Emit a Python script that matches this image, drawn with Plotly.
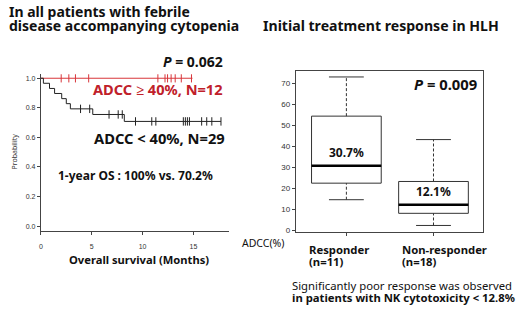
import plotly.graph_objects as go

# ---------------- Kaplan-Meier data ----------------
low_times = [0, 0.25, 0.85, 1.35, 2.05, 2.5, 2.9, 5.1, 8.2, 17.7]
low_surv = [1.0, 0.966, 0.931, 0.897, 0.862, 0.828, 0.793, 0.755, 0.708, 0.708]
low_censor = [3.9, 4.8, 6.7, 7.6, 8.0, 9.3, 10.9, 11.3, 14.0, 14.2, 14.4, 14.6,
              15.8, 16.3, 16.8, 17.7]
high_times = [0, 14.9]
high_surv = [1.0, 1.0]
high_censor = [2.0, 2.75, 3.4, 4.7, 11.5, 12.2, 12.45, 12.8, 13.2, 13.8, 14.8]
km_xticks = [0, 5, 10, 15]
km_yticks = [0.0, 0.2, 0.4, 0.6, 0.8, 1.0]

# ---------------- Box plot data ----------------
groups = ["Responder", "Non-responder"]
group_n = [11, 18]
whisk_lo = [14.5, 2.2]
q1 = [22.4, 8.0]
median = [30.7, 12.1]
q3 = [54.4, 23.2]
whisk_hi = [73.1, 43.2]
box_yticks = [0, 10, 20, 30, 40, 50, 60, 70]

W, H = 520, 312
FONT = "Noto Sans"
RED_LINE = "#D8353A"
RED_TXT = "#C0202A"


def surv_at(t, times, surv):
    s = surv[0]
    for tt, ss in zip(times, surv):
        if tt <= t:
            s = ss
    return s


fig = go.Figure()

# KM curves
fig.add_trace(go.Scatter(x=high_times, y=high_surv, mode="lines", line_shape="hv",
                         line=dict(color=RED_LINE, width=1), xaxis="x", yaxis="y",
                         hoverinfo="skip"))
fig.add_trace(go.Scatter(x=high_censor, y=[surv_at(t, high_times, high_surv) for t in high_censor],
                         mode="markers", marker=dict(symbol="line-ns", size=6,
                                                     line=dict(color=RED_LINE, width=1)),
                         xaxis="x", yaxis="y", hoverinfo="skip"))
fig.add_trace(go.Scatter(x=low_times, y=low_surv, mode="lines", line_shape="hv",
                         line=dict(color="#222", width=1), xaxis="x", yaxis="y",
                         hoverinfo="skip"))
fig.add_trace(go.Scatter(x=low_censor, y=[surv_at(t, low_times, low_surv) for t in low_censor],
                         mode="markers", marker=dict(symbol="line-ns", size=6,
                                                     line=dict(color="#222", width=1)),
                         xaxis="x", yaxis="y", hoverinfo="skip"))

# Box plot drawn from the summary statistics
half_box = 0.4
half_cap = 0.2
for i, g in enumerate(groups):
    p = i + 1
    # whiskers (dashed)
    fig.add_trace(go.Scatter(x=[p, p], y=[q3[i], whisk_hi[i]], mode="lines",
                             line=dict(color="#333", width=1, dash="3px,2px"),
                             xaxis="x2", yaxis="y2", hoverinfo="skip"))
    fig.add_trace(go.Scatter(x=[p, p], y=[whisk_lo[i], q1[i]], mode="lines",
                             line=dict(color="#333", width=1, dash="3px,2px"),
                             xaxis="x2", yaxis="y2", hoverinfo="skip"))
    # caps
    for v in (whisk_lo[i], whisk_hi[i]):
        fig.add_trace(go.Scatter(x=[p - half_cap, p + half_cap], y=[v, v], mode="lines",
                                 line=dict(color="#333", width=1),
                                 xaxis="x2", yaxis="y2", hoverinfo="skip"))
    # box
    fig.add_trace(go.Scatter(x=[p - half_box, p + half_box, p + half_box, p - half_box, p - half_box],
                             y=[q1[i], q1[i], q3[i], q3[i], q1[i]], mode="lines",
                             line=dict(color="#333", width=1),
                             xaxis="x2", yaxis="y2", hoverinfo="skip"))
    # median
    fig.add_trace(go.Scatter(x=[p - half_box, p + half_box], y=[median[i], median[i]], mode="lines",
                             line=dict(color="#000", width=2.6),
                             xaxis="x2", yaxis="y2", hoverinfo="skip"))


def px(x, y):
    return x / W, 1 - y / H


def dom_x(a, b):
    return [a / W, b / W]


def dom_y(top, bottom):
    return [1 - bottom / H, 1 - top / H]


ann = []


def text(x, y, s, size, color="#111", xanchor="left", angle=0):
    X, Y = px(x, y)
    ann.append(dict(x=X, y=Y, xref="paper", yref="paper", text=s, showarrow=False,
                    xanchor=xanchor, yanchor="middle", textangle=angle, borderpad=0,
                    font=dict(family=FONT, size=size, color=color)))


# Left panel texts
text(6, 12, "<b>In all patients with febrile</b>", 14)
text(6, 25.5, "<b>disease accompanying cytopenia</b>", 14)
text(223, 62, "<b><i>P</i> = 0.062</b>", 14, xanchor="right")
text(223, 90, "<b>ADCC ≥ 40%, N=12</b>", 14.6, color=RED_TXT, xanchor="right")
text(225, 139, "<b>ADCC &lt; 40%, N=29</b>", 14.7, xanchor="right")
text(134, 177, "<b>1-year OS : 100% vs. 70.2%</b>", 12, xanchor="center")
text(138, 262, "<b>Overall survival (Months)</b>", 11.2, xanchor="center")
text(13, 153, "Probability", 7, color="#333", xanchor="center", angle=-90)

# Right panel texts
text(380, 26, "<b>Initial treatment response in HLH</b>", 14.1, xanchor="center")
text(478, 85, "<b><i>P</i> = 0.009</b>", 14.8, xanchor="right")
text(262, 245, "ADCC(%)", 10.5, xanchor="center")
for i, g in enumerate(groups):
    p = i + 1
    ann.append(dict(x=p, y=median[i], xref="x2", yref="y2", text=f"<b>{median[i]}%</b>",
                    showarrow=False, yshift=13, font=dict(family=FONT, size=12, color="#111")))
text(307, 251.5, f"<b>{groups[0]}</b>", 11.3)
text(307, 264, f"<b>(n={group_n[0]})</b>", 11.3)
text(401, 251.5, f"<b>{groups[1]}</b>", 11.3)
text(401, 264, f"<b>(n={group_n[1]})</b>", 11.3)
text(290, 288, "Significantly poor response was observed", 11.3)
text(290, 300.5, "<b>in patients with NK cytotoxicity &lt; 12.8%</b>", 11.3)

axis_common = dict(showgrid=False, zeroline=False, ticks="outside", ticklen=3,
                   tickcolor="#444", linecolor="#444", linewidth=1, showline=True)

fig.update_layout(
    width=W, height=H, margin=dict(l=0, r=0, t=0, b=0),
    paper_bgcolor="white", plot_bgcolor="white", showlegend=False,
    annotations=ann,
    xaxis=dict(domain=dom_x(39, 228), range=[0, 18.5], tickvals=km_xticks,
               tickfont=dict(family="Liberation Sans", size=7, color="#333"),
               ticklabelstandoff=6, anchor="y", **axis_common),
    yaxis=dict(domain=dom_y(75, 233.3), range=[-0.0335, 1.0268], tickvals=km_yticks,
               ticktext=[f"{v:.1f}" for v in km_yticks],
               tickfont=dict(family="Liberation Sans", size=7, color="#333"),
               anchor="x", **axis_common),
    xaxis2=dict(domain=dom_x(295, 483), range=[0.42, 2.57], tickvals=[1, 2],
                ticktext=["", ""], mirror=True, anchor="y2", **axis_common),
    yaxis2=dict(domain=dom_y(72, 234), range=[-0.8, 75.8], tickvals=box_yticks,
                tickfont=dict(family="Liberation Sans", size=8, color="#333"),
                mirror=True, anchor="x2", **axis_common),
)

fig.write_html("out.html", config={"displayModeBar": False},
               post_script="document.body.style.margin='0';document.body.style.padding='0';")
